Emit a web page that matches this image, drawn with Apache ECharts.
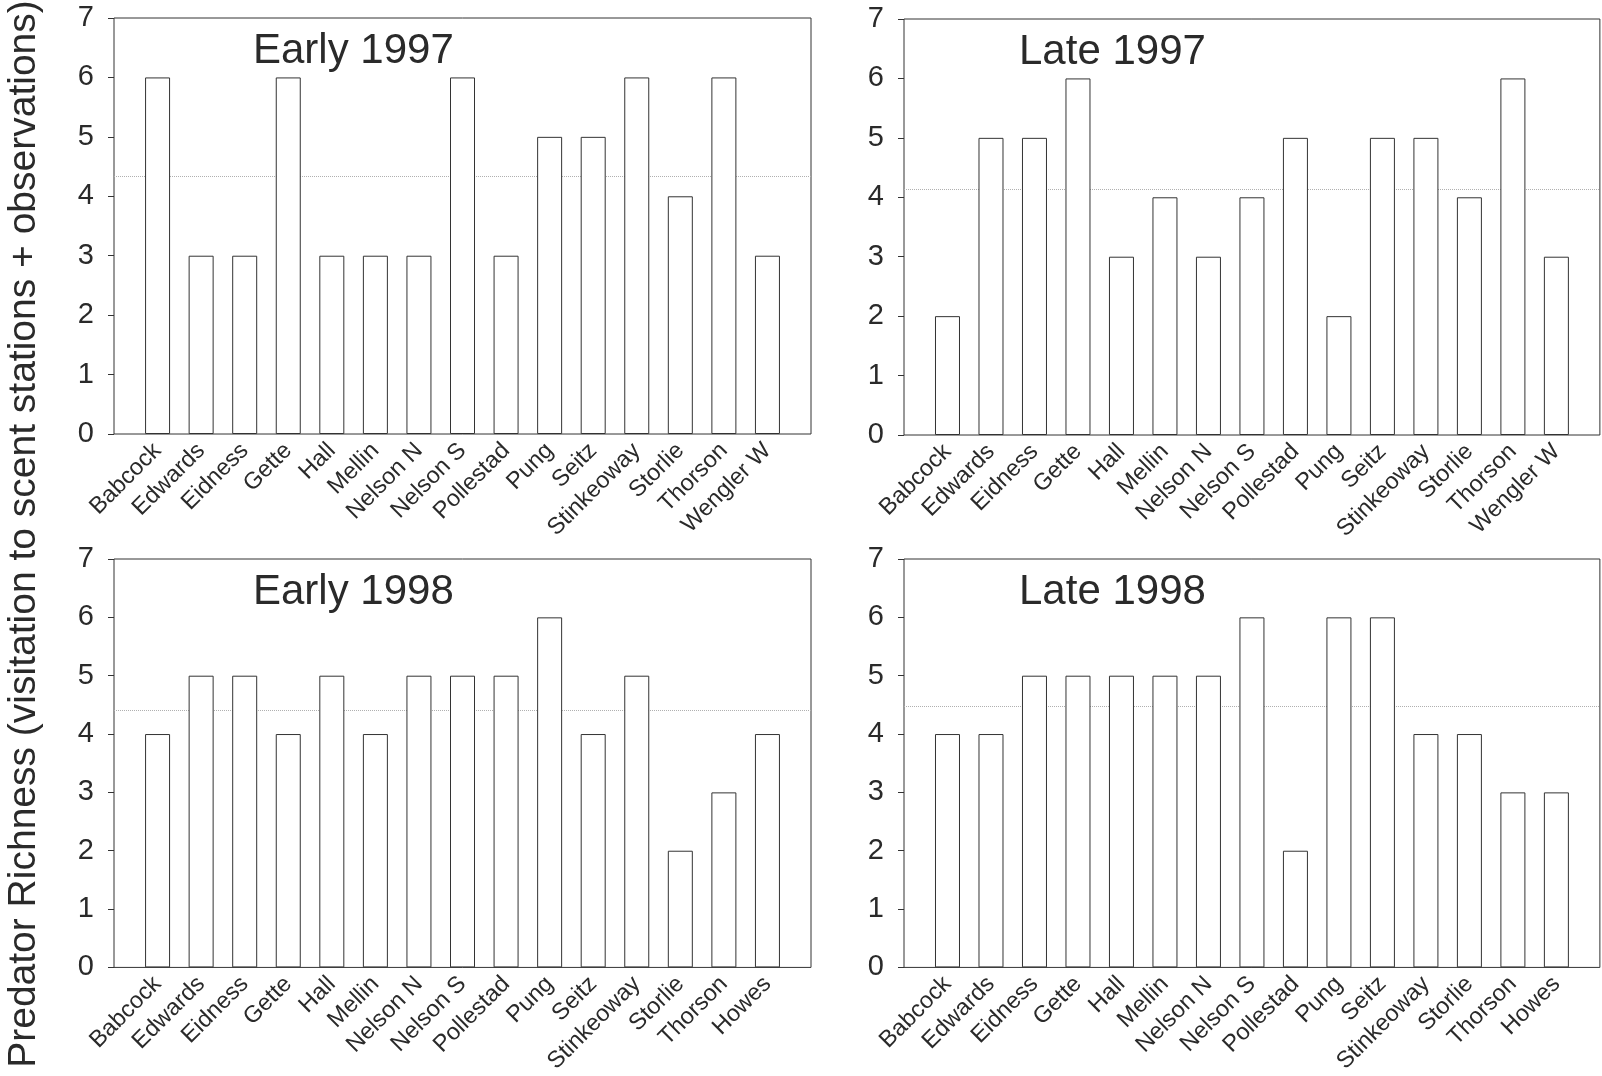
<!DOCTYPE html>
<html>
<head>
<meta charset="utf-8">
<script src="https://cdn.jsdelivr.net/npm/echarts@6/dist/echarts.min.js"></script>
<style>
html,body{margin:0;padding:0;background:#fff;}
#chart{width:1602px;height:1076px;}
</style>
</head>
<body>
<div id="chart"></div>
<script>
// ---- data ----
const cats1997 = ['Babcock','Edwards','Eidness','Gette','Hall','Mellin','Nelson N','Nelson S','Pollestad','Pung','Seitz','Stinkeoway','Storlie','Thorson','Wengler W'];
const cats1998 = ['Babcock','Edwards','Eidness','Gette','Hall','Mellin','Nelson N','Nelson S','Pollestad','Pung','Seitz','Stinkeoway','Storlie','Thorson','Howes'];
const early1997 = [6,3,3,6,3,3,3,6,3,5,5,6,4,6,3];
const late1997  = [2,5,5,6,3,4,3,4,5,2,5,5,4,6,3];
const early1998 = [4,5,5,4,5,4,5,5,5,6,4,5,2,3,4];
const late1998  = [4,4,5,5,5,5,5,6,2,6,6,4,4,3,3];
const panelTitles = ['Early 1997','Late 1997','Early 1998','Late 1998'];
const yTitle = 'Predator Richness (visitation to scent stations + observations)';
const yMin = 0, yMax = 7, yStep = 1;

const FONT = '"Liberation Sans", Arial, Helvetica, sans-serif';
const NARROW = '"Liberation Sans Narrow", "Arial Narrow", "Liberation Sans", Arial, sans-serif';
const panels = [
  {title: panelTitles[0], cats: cats1997, vals: early1997, left: 114, top: 18,  width: 697, height: 416},
  {title: panelTitles[1], cats: cats1997, vals: late1997,  left: 904, top: 19,  width: 696, height: 416},
  {title: panelTitles[2], cats: cats1998, vals: early1998, left: 114, top: 559, width: 697, height: 414},
  {title: panelTitles[3], cats: cats1998, vals: late1998,  left: 904, top: 559, width: 696, height: 414}
];

const grid = [], xAxis = [], yAxis = [], series = [], title = [];
panels.forEach((p, i) => {
  const n = p.cats.length;
  const mean = p.vals.reduce((a, b) => a + b, 0) / n;
  grid.push({left: p.left, top: p.top, width: p.width, height: p.height,
    show: true, borderColor: '#333', borderWidth: 1, backgroundColor: 'transparent', containLabel: false});
  xAxis.push({
    type: 'value', gridIndex: i, min: 0, max: n + 1, interval: 1,
    axisLine: {show: false}, axisTick: {show: false}, splitLine: {show: false},
    axisLabel: {
      rotate: 45, margin: 13, fontSize: 23.5, color: '#2a2a2a', fontFamily: FONT,
      formatter: v => (v >= 1 && v <= n) ? p.cats[v - 1] : ''
    }
  });
  yAxis.push({
    type: 'value', gridIndex: i, min: yMin, max: yMax, interval: yStep,
    axisLine: {show: false},
    axisTick: {show: true, length: 6, lineStyle: {color: '#333', width: 1}},
    splitLine: {show: false},
    axisLabel: {fontSize: 29, color: '#2a2a2a', fontFamily: NARROW, margin: 20}
  });
  series.push({
    type: 'bar', xAxisIndex: i, yAxisIndex: i, z: 10, barWidth: 25,
    data: p.vals.map((v, k) => [k + 1, v]),
    itemStyle: {color: '#fff', borderColor: '#333', borderWidth: 1},
    silent: true, animation: false
  });
  series.push({
    type: 'line', xAxisIndex: i, yAxisIndex: i, z: 1,
    data: p.vals.map((v, k) => [k + 1, v]),
    showSymbol: false, symbol: 'none', lineStyle: {opacity: 0}, silent: true, animation: false,
    markLine: {
      silent: true, symbol: 'none', z: 1, animation: false,
      label: {show: false},
      lineStyle: {type: 'dotted', color: '#b0b0b0', width: 1},
      data: [{yAxis: mean}]
    }
  });
  title.push({
    text: p.title, left: p.left + (i % 2 === 0 ? 139 : 115), top: p.top + 12, padding: 0,
    textStyle: {fontSize: 42, fontWeight: 'normal', color: '#2a2a2a', fontFamily: FONT}
  });
});

const chart = echarts.init(document.getElementById('chart'), null, {renderer: 'canvas'});
chart.setOption({
  backgroundColor: '#fff',
  animation: false,
  title, grid, xAxis, yAxis, series,
  graphic: [{
    type: 'text', x: 24, y: 534, rotation: Math.PI / 2,
    style: {text: yTitle, font: '39px ' + FONT, fill: '#2a2a2a', align: 'center', verticalAlign: 'middle'}
  }]
});
</script>
</body>
</html>
